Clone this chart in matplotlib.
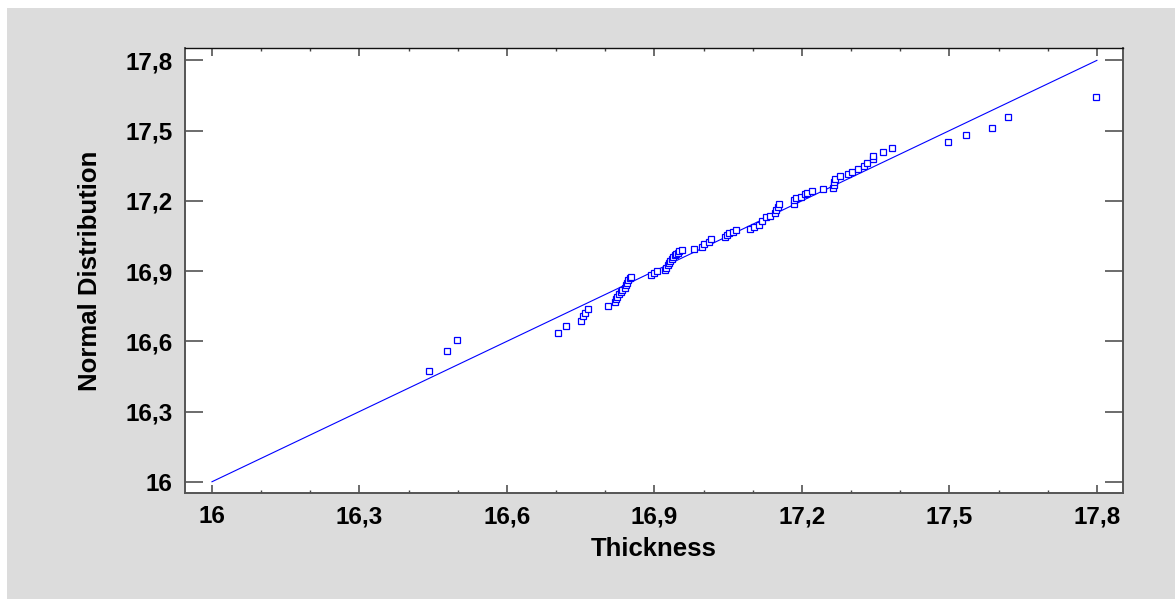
import matplotlib.pyplot as plt
from matplotlib.patches import Rectangle
from matplotlib.ticker import FixedLocator, MultipleLocator, FuncFormatter

# Sorted thickness values (x) and their normal-distribution scores (y)
thickness = [
    16.441, 16.479, 16.498, 16.704, 16.721, 16.751, 16.755, 16.759, 16.764, 16.806,
    16.820, 16.822, 16.824, 16.828, 16.833, 16.835, 16.840, 16.843, 16.845, 16.847,
    16.850, 16.853, 16.893, 16.900, 16.906, 16.921, 16.923, 16.927, 16.929, 16.931,
    16.935, 16.938, 16.942, 16.944, 16.947, 16.950, 16.957, 16.980, 16.996, 17.000,
    17.011, 17.015, 17.043, 17.047, 17.052, 17.059, 17.065, 17.094, 17.102, 17.113,
    17.118, 17.127, 17.136, 17.145, 17.147, 17.151, 17.154, 17.183, 17.184, 17.187,
    17.198, 17.207, 17.210, 17.220, 17.243, 17.264, 17.265, 17.266, 17.268, 17.278,
    17.294, 17.302, 17.314, 17.327, 17.332, 17.344, 17.344, 17.365, 17.383, 17.498,
    17.534, 17.587, 17.620, 17.799,
]
normal_score = [
    16.473, 16.557, 16.604, 16.636, 16.664, 16.688, 16.707, 16.722, 16.739, 16.751,
    16.768, 16.779, 16.790, 16.801, 16.810, 16.819, 16.829, 16.840, 16.850, 16.862,
    16.869, 16.876, 16.883, 16.890, 16.899, 16.904, 16.914, 16.924, 16.933, 16.943,
    16.951, 16.961, 16.967, 16.973, 16.978, 16.985, 16.990, 16.994, 17.004, 17.014,
    17.025, 17.037, 17.047, 17.054, 17.061, 17.068, 17.075, 17.078, 17.089, 17.098,
    17.114, 17.132, 17.136, 17.147, 17.161, 17.172, 17.185, 17.188, 17.202, 17.213,
    17.215, 17.228, 17.235, 17.241, 17.249, 17.256, 17.267, 17.280, 17.293, 17.306,
    17.316, 17.323, 17.334, 17.349, 17.363, 17.377, 17.391, 17.407, 17.427, 17.450,
    17.480, 17.510, 17.558, 17.642,
]
ref_line = [16.0, 17.8]
tick_values = [16.0, 16.3, 16.6, 16.9, 17.2, 17.5, 17.8]

plt.rcParams['font.family'] = ['Liberation Sans', 'DejaVu Sans']

fig = plt.figure(figsize=(11.75, 5.99), dpi=100)
fig.patch.set_facecolor('white')
# gray panel behind the plot
fig.patches.append(Rectangle((7 / 1175, 0), 1, 591 / 599, transform=fig.transFigure,
                             facecolor='#dcdcdc', edgecolor='none', zorder=-10))

ax = fig.add_axes([0.1574, 0.177, 0.7983, 0.7429])
ax.set_facecolor('white')

ax.plot(ref_line, ref_line, color='#0000ff', linewidth=0.8, zorder=2)
ax.plot(thickness, normal_score, linestyle='none', marker='s', markersize=4.0,
        markerfacecolor='white', markeredgecolor='#0000ff', markeredgewidth=0.9, zorder=3)

ax.set_xlim(15.945, 17.853)
ax.set_ylim(15.952, 17.853)

comma = FuncFormatter(lambda v, p: ('%g' % round(v, 2)).replace('.', ','))
ax.xaxis.set_major_locator(FixedLocator(tick_values))
ax.xaxis.set_minor_locator(MultipleLocator(0.1))
ax.yaxis.set_major_locator(FixedLocator(tick_values))
ax.xaxis.set_major_formatter(comma)
ax.yaxis.set_major_formatter(comma)

ax.tick_params(axis='x', which='major', direction='in', length=6, width=1.1,
               color='#444444', top=True, bottom=True, pad=9)
ax.tick_params(axis='x', which='minor', direction='in', length=2.3, width=1.0,
               color='#444444', top=True, bottom=True)
ax.tick_params(axis='y', which='major', direction='in', length=13, width=1.1,
               color='#444444', left=True, right=True, pad=9)
ax.tick_params(axis='both', labelsize=17.5)
for lbl in ax.get_xticklabels() + ax.get_yticklabels():
    lbl.set_fontweight('bold')

for side in ['left', 'bottom', 'right']:
    ax.spines[side].set_color('#555555')
    ax.spines[side].set_linewidth(1.4)
ax.spines['top'].set_color('#111111')
ax.spines['top'].set_linewidth(1.0)

ax.set_xlabel('Thickness', fontsize=18.5, fontweight='bold', labelpad=6)
ax.set_ylabel('Normal Distribution', fontsize=18.5, fontweight='bold', labelpad=17)

fig.savefig('out.png', dpi=100)
